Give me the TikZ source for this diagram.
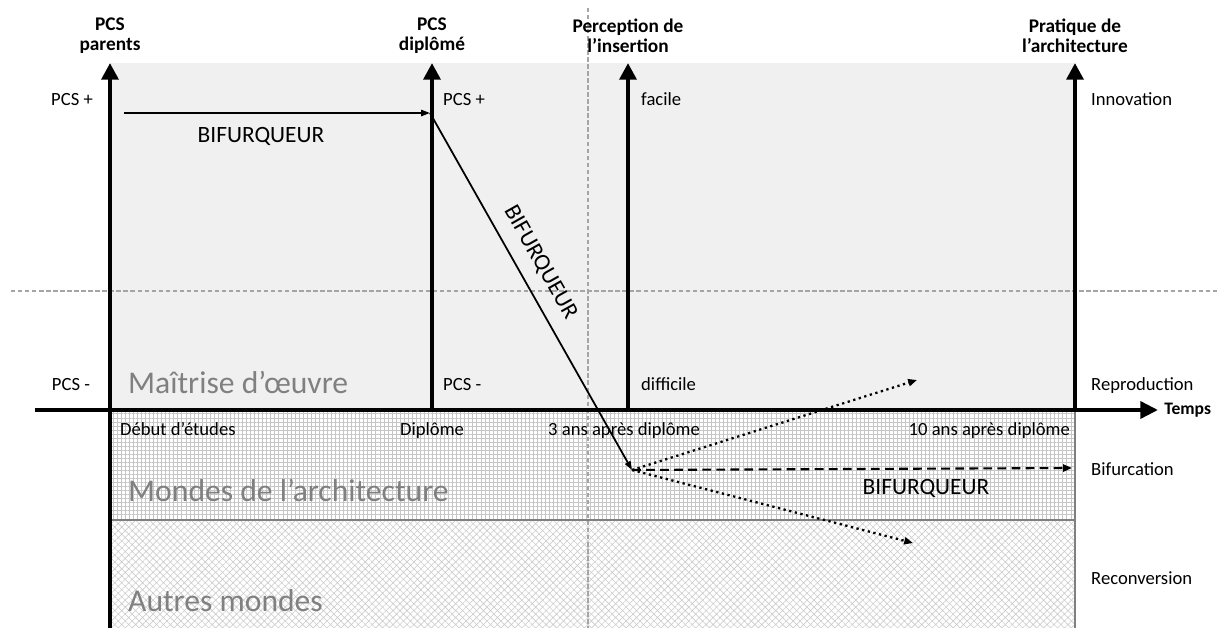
\documentclass[tikz,border=0pt]{standalone}
\usepackage{fontspec}
\setmainfont{Carlito}
\usetikzlibrary{arrows.meta,patterns.meta}
\definecolor{zonegray}{RGB}{240,240,240}
\definecolor{labelgray}{RGB}{128,128,128}
\definecolor{guidegray}{RGB}{165,165,165}
\begin{document}
\begin{tikzpicture}[x=0.02cm,y=-0.02cm,font=\fontsize{10.6}{12}\selectfont]
  \tikzstyle{axis}=[line width=2.8pt,-{Triangle[length=9.5pt,width=9.5pt]}]
  \tikzstyle{timeaxis}=[line width=2.3pt,-{Triangle[length=10pt,width=9.5pt]}]
  \tikzstyle{guide}=[guidegray,line width=0.6pt,dash pattern=on 2.5pt off 1.5pt]
  \tikzstyle{path}=[line width=1pt,-{Triangle[length=5pt,width=3.5pt]}]
  \tikzstyle{dotpath}=[line width=1.3pt,dotted,-{Triangle[length=5pt,width=4pt]}]
  \tikzstyle{dashpath}=[line width=1.2pt,dash pattern=on 5pt off 3pt,-{Triangle[length=5pt,width=4pt]}]
  \tikzstyle{heading}=[align=center,font=\bfseries\fontsize{11}{11.5}\selectfont]
  \tikzstyle{lbl}=[text height=1.5ex,text depth=0.3ex]
  \tikzstyle{world}=[anchor=west,text=labelgray,font=\fontsize{18}{20}\selectfont,text height=1.5ex,text depth=0.3ex]
  \tikzstyle{bif}=[font=\fontsize{13.3}{15}\selectfont]
  \useasboundingbox (0,0) rectangle (1217,628);
  % zones
  \fill[zonegray] (110,63) rectangle (1075,410);
  \fill[pattern={Hatch[angle=0,distance=2.3pt,line width=0.4pt]},pattern color=gray!45]
    (110,410) rectangle (1075,520);
  \fill[pattern={Hatch[angle=45,distance=2.8pt,line width=0.35pt]},pattern color=gray!40]
    (110,520) rectangle (1075,628);
  \draw[gray,line width=1pt] (110,520) -- (1075,520);
  \draw[gray,line width=0.6pt] (1075,410) -- (1075,628);
  % guides
  \draw[guide] (588,8) -- (588,628);
  \draw[guide] (11,291) -- (1217,291);
  \node[world] (moe) at (122,388) {Maîtrise d’œuvre};
  \node[world] (marchi) at (122,496) {Mondes de l’architecture};
  \node[world] (autres) at (122,606) {Autres mondes};
  % axes
  \coordinate (p0) at (110,628); \coordinate (p1) at (110,63);
  \coordinate (d0) at (432,410); \coordinate (d1) at (432,63);
  \coordinate (i0) at (628,410); \coordinate (i1) at (628,63);
  \coordinate (a0) at (1075,410); \coordinate (a1) at (1075,63);
  \coordinate (t0) at (35,410); \coordinate (t1) at (1158,410);
  \draw[timeaxis] (t0) -- (t1);
  \draw[axis] (p0) -- (p1);
  \draw[axis] (d0) -- (d1);
  \draw[axis] (i0) -- (i1);
  \draw[axis] (a0) -- (a1);
  \node[heading] (hparents) at (110,36) {PCS\\parents};
  \node[heading] (hdiplome) at (432,36) {PCS\\diplômé};
  \node[heading] (hinsert) at (628,36) {Perception de\\l’insertion};
  \node[heading] (hpratique) at (1075,36) {Pratique de\\l’architecture};
  \node[heading,anchor=west,inner sep=0pt,font=\bfseries\fontsize{10}{12}\selectfont] (temps) at (1164,410) {Temps};
  % values
  \node[lbl] (pplus) at (72,100) {PCS +};
  \node[lbl] (pmoins) at (71,385) {PCS -};
  \node[lbl,anchor=west] (dplus) at (437,100) {PCS +};
  \node[lbl,anchor=west] (dmoins) at (437,385) {PCS -};
  \node[lbl,anchor=west] (facile) at (635,100) {facile};
  \node[lbl,anchor=west] (difficile) at (635,385) {difficile};
  \node[lbl,anchor=west] (innov) at (1085,100) {Innovation};
  \node[lbl,anchor=west] (repro) at (1085,385) {Reproduction};
  \node[lbl,anchor=west] (bifurc) at (1085,470) {Bifurcation};
  \node[lbl,anchor=west] (reconv) at (1085,579) {Reconversion};
  \node[lbl,anchor=west] (debut) at (114,430) {Début d’études};
  \node[lbl,anchor=west] (dipl) at (394,430) {Diplôme};
  \node[lbl,anchor=west] (trois) at (542,430) {3 ans après diplôme};
  \node[lbl,anchor=east] (dix) at (1076,430) {10 ans après diplôme};
  % trajectoires
  \coordinate (bstart) at (124,113);
  \coordinate (bdip) at (430,113);
  \coordinate (bsplit) at (632,470);
  \coordinate (binno) at (917,380);
  \coordinate (bbif) at (1072,468);
  \coordinate (breco) at (913,543);
  \draw[path] (bstart) -- (bdip);
  \node[bif] (bif1) at (261,136) {BIFURQUEUR};
  \draw[path] (bdip) -- node[bif,sloped,pos=0.45,above=7pt,inner sep=0pt] (bif2) {BIFURQUEUR} (bsplit);
  \draw[dashpath] (bsplit) -- (bbif);
  \node[bif] (bif3) at (926,488) {BIFURQUEUR};
  \draw[dotpath] (bsplit) -- (binno);
  \draw[dotpath] (bsplit) -- (breco);
\end{tikzpicture}
\end{document}
